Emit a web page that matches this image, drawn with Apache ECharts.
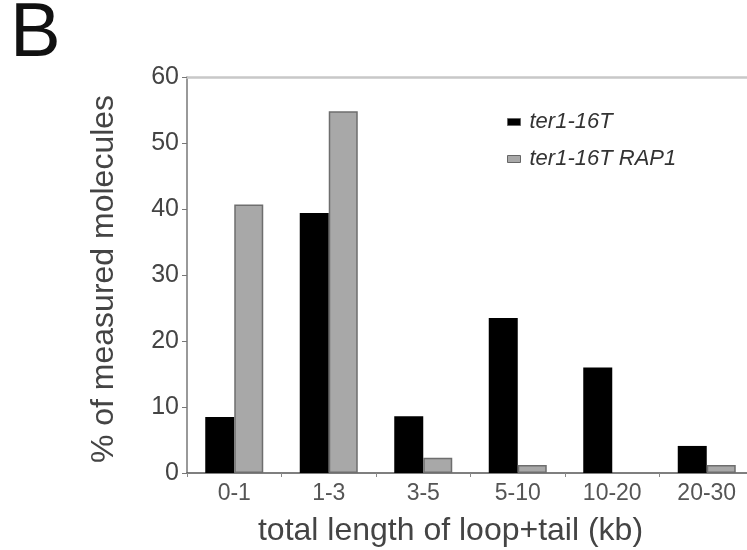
<!DOCTYPE html>
<html>
<head>
<meta charset="utf-8">
<script src="https://cdn.jsdelivr.net/npm/echarts@6/dist/echarts.min.js"></script>
<style>
  html, body { margin: 0; padding: 0; background: #fff; }
  #chart { width: 747px; height: 550px; }
</style>
</head>
<body>
<div id="chart"></div>
<script>
// data
var categories = ['0-1', '1-3', '3-5', '5-10', '10-20', '20-30']
var ter1Values = [8.5, 39.4, 8.6, 23.5, 16, 4.1]
var rap1Values = [40.7, 54.8, 2.3, 1.2, null, 1.2] // 10-20 has no bar (0)
var yTicks = [0, 10, 20, 30, 40, 50, 60]

var font = 'Liberation Sans, Arial, sans-serif'

var chart = echarts.init(document.getElementById('chart'))

var option = {
  animation: false,
  title: {
    text: 'B',
    left: 5,
    top: -8,
    textStyle: { fontFamily: font, fontSize: 76, fontWeight: 'normal', color: '#111' }
  },
  legend: {
    orient: 'vertical',
    left: 507,
    top: 111,
    padding: 0,
    icon: 'rect',
    itemWidth: 13,
    itemHeight: 7,
    itemGap: 15,
    itemStyle: { borderColor: '#666', borderWidth: 1 },
    textStyle: { fontFamily: font, fontSize: 22, fontStyle: 'italic', color: '#333', lineHeight: 20, padding: [0, 0, 0, 4] },
    data: ['ter1-16T', 'ter1-16T RAP1']
  },
  grid: {
    left: 187,
    top: 77,
    width: 567,
    height: 396,
    outerBoundsMode: 'none',
    containLabel: false
  },
  xAxis: [
    {
      type: 'category',
      data: categories,
      name: 'total length of loop+tail (kb)',
      nameLocation: 'middle',
      nameGap: 42,
      nameTextStyle: { fontFamily: font, fontSize: 32, color: '#444', padding: [0, 40, 0, 0] },
      axisLine: { lineStyle: { color: '#555', width: 1.5 } },
      axisTick: { show: true, length: 4, lineStyle: { color: '#888' } },
      axisLabel: { fontFamily: font, fontSize: 23, color: '#555', margin: 9 }
    },
    {
      // plain grey frame line along the top of the plot
      type: 'category',
      data: categories,
      position: 'top',
      axisLine: { lineStyle: { color: '#c8c8c8', width: 2.5 } },
      axisTick: { show: false },
      axisLabel: { show: false }
    }
  ],
  yAxis: {
    type: 'value',
    min: yTicks[0],
    max: yTicks[yTicks.length - 1],
    interval: 10,
    name: '% of measured molecules',
    nameLocation: 'middle',
    nameGap: 67,
    nameTextStyle: { fontFamily: font, fontSize: 32, color: '#444', padding: [0, 8, 0, 0] },
    axisLine: { show: true, lineStyle: { color: '#777', width: 1.5 } },
    axisTick: { show: true, length: 5, lineStyle: { color: '#777' } },
    axisLabel: { fontFamily: font, fontSize: 25, color: '#444', margin: 8 },
    splitLine: { show: false }
  },
  series: [
    {
      name: 'ter1-16T',
      type: 'bar',
      data: ter1Values,
      barWidth: 29,
      barGap: '0%',
      itemStyle: { color: '#000' }
    },
    {
      name: 'ter1-16T RAP1',
      type: 'bar',
      data: rap1Values,
      barWidth: 29,
      itemStyle: { color: '#a8a8a8', borderColor: '#6e6e6e', borderWidth: 1.5 }
    }
  ]
}

chart.setOption(option)
</script>
</body>
</html>
